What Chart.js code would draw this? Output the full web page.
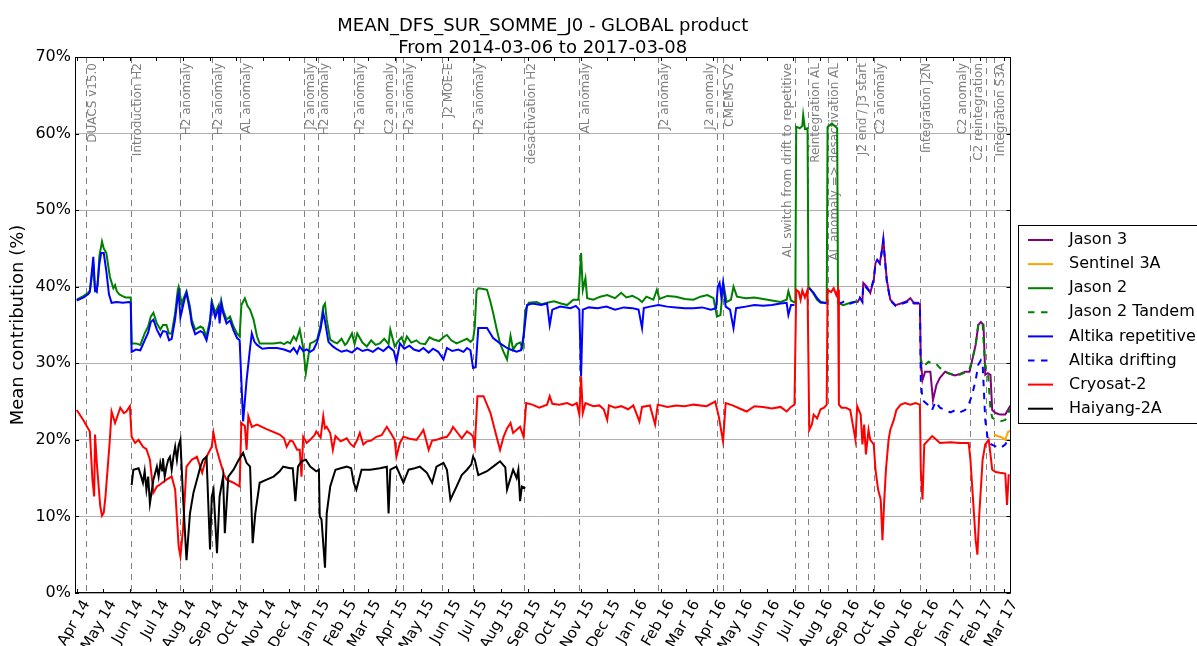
<!DOCTYPE html>
<html>
<head>
<meta charset="utf-8">
<script src="https://cdn.jsdelivr.net/npm/chart.js@4.4.1/dist/chart.umd.min.js"></script>
<style>
  html, body { margin: 0; padding: 0; background: #fff; }
  #wrap { width: 1197px; height: 646px; }
</style>
</head>
<body>
<div id="wrap"><canvas id="dfs" width="1197" height="646"></canvas></div>
<script>
// x values are days counted from 2014-03-30 (day 0); axis ends on 2017-03-08
const startDate = Date.UTC(2014, 2, 30);
const lastDay = 1074;

const titleLines = ["MEAN_DFS_SUR_SOMME_J0 - GLOBAL product", "From 2014-03-06 to 2017-03-08"];
const yTitle = "Mean contribution (%)";

const monthLabels = ["Apr 14", "May 14", "Jun 14", "Jul 14", "Aug 14", "Sep 14", "Oct 14", "Nov 14", "Dec 14",
  "Jan 15", "Feb 15", "Mar 15", "Apr 15", "May 15", "Jun 15", "Jul 15", "Aug 15", "Sep 15", "Oct 15", "Nov 15", "Dec 15",
  "Jan 16", "Feb 16", "Mar 16", "Apr 16", "May 16", "Jun 16", "Jul 16", "Aug 16", "Sep 16", "Oct 16", "Nov 16", "Dec 16",
  "Jan 17", "Feb 17", "Mar 17"];
// first day of each month
const monthDays = monthLabels.map((m, i) => Math.round((Date.UTC(2014, 3 + i, 1) - startDate) / 86400000));

// events (vertical dashed lines)
const eventDays = [13, 64, 120, 157, 189, 263, 279, 320, 369, 376, 421, 457, 516, 579, 669, 737, 744,
  827, 842, 864, 897, 917, 970, 1027, 1046, 1055];
const eventLabels = ["DUACS v15.0", "Introduction H2", "H2 anomaly", "H2 anomaly", "AL anomaly", "J2 anomaly",
  "H2 anomaly", "H2 anomaly", "C2 anomaly", "H2 anomaly", "J2 MOE-E", "H2 anomaly", "desactivation H2",
  "AL anomaly", "J2 anomaly", "J2 anomaly", "CMEMS V2", "AL switch from drift to repetitive", "Reintegration AL",
  "AL anomaly => desactivation AL", "J2 end / J3 start", "C2 anomaly", "Integration J2N", "C2 anomaly",
  "C2 reintegration", "Integration S3A"];
const eventLabelLeft = [8, 15, 17, 23, 24]; // indexes whose label sits left of the line

const seriesNames = ["Jason 3", "Sentinel 3A", "Jason 2", "Jason 2 Tandem", "Altika repetitive",
  "Altika drifting", "Cryosat-2", "Haiyang-2A"];

// [day, mean contribution %]
const jason3 = [[898,37.9],[901,38.5],[904,38.2],[905,40.5],[909,40.0],[913,39.2],[917,40.9],[919,43.1],[921,43.5],
  [924,43.1],[926,44.5],[928,46.3],[929,44.8],[932,40.9],[936,38.3],[942,37.6],[948,37.8],[955,38.1],[959,38.5],
  [963,37.9],[968,37.9],[970,37.7],[971,30.4],[973,27.8],[976,28.9],[982,28.9],[985,25.2],[989,27.2],[993,28.1],
  [999,28.9],[1005,28.6],[1010,28.4],[1016,28.6],[1022,28.9],[1027,28.9],[1030,30.4],[1034,32.4],[1037,35.0],
  [1040,35.4],[1043,35.0],[1045,28.5],[1048,28.7],[1051,28.5],[1053,23.9],[1057,23.5],[1062,23.3],[1068,23.3],
  [1071,23.9],[1074,24.5]];

const sentinel3a = [[1055,20.7],[1059,20.5],[1062,20.4],[1066,20.2],[1068,20.0],[1071,21.0],[1074,21.2]];

const jason2 = [[2,38.3],[10,38.8],[15,39.2],[17,39.5],[19,41.0],[21,43.0],[23,39.6],[26,40.2],[28,44.0],[31,45.9],
  [33,45.0],[36,44.4],[40,41.3],[44,39.8],[46,40.2],[48,39.4],[51,39.0],[54,38.8],[58,38.6],[62,38.6],[64,38.6],
  [65,32.6],[70,32.6],[75,32.4],[80,33.9],[84,34.8],[87,36.1],[90,36.6],[94,35.2],[98,34.4],[101,35.0],[105,35.0],
  [108,33.9],[111,33.9],[115,36.6],[118,39.6],[119,40.0],[123,37.4],[124,38.3],[128,39.4],[132,37.4],[134,35.7],
  [138,34.4],[144,34.8],[147,34.6],[151,33.5],[155,35.7],[157,38.1],[161,36.6],[165,37.6],[166,35.7],[168,38.1],
  [170,37.0],[174,35.7],[178,36.1],[182,34.8],[186,33.9],[189,33.5],[191,37.6],[195,38.5],[198,37.5],[201,37.0],
  [205,35.7],[209,33.5],[212,32.6],[220,32.6],[228,32.6],[236,32.7],[240,32.5],[244,32.8],[247,32.6],[251,33.5],
  [254,33.0],[258,34.4],[262,32.0],[265,28.7],[268,31.0],[270,32.6],[274,32.8],[278,33.1],[282,35.0],[285,37.4],
  [287,37.8],[289,35.7],[293,33.1],[297,32.8],[301,32.6],[306,33.2],[310,32.4],[312,32.6],[318,33.9],[321,32.5],
  [324,33.9],[330,32.7],[335,32.2],[340,33.0],[345,32.4],[350,32.6],[355,33.2],[360,32.5],[362,34.4],[367,32.2],
  [371,32.9],[375,33.4],[378,32.5],[381,33.5],[386,32.7],[392,33.0],[396,32.6],[402,32.5],[407,33.4],[412,33.1],
  [418,32.9],[424,33.5],[427,33.7],[432,33.0],[438,32.6],[444,32.9],[450,33.2],[454,32.8],[457,33.1],[459,34.8],
  [461,39.5],[463,39.8],[469,39.7],[473,39.6],[477,38.0],[480,36.6],[484,34.5],[488,32.6],[492,31.5],[496,30.5],
  [500,33.6],[503,31.8],[507,32.5],[511,32.7],[514,32.0],[517,37.0],[521,37.9],[530,38.0],[536,37.7],[542,37.9],
  [550,38.1],[558,37.8],[565,37.6],[572,38.3],[578,38.3],[581,44.4],[583,39.6],[586,41.1],[588,38.5],[595,38.3],
  [603,38.7],[611,38.9],[620,38.5],[627,39.2],[633,38.6],[640,38.8],[647,38.4],[651,38.0],[656,38.7],[664,38.3],
  [668,39.6],[671,38.4],[680,38.8],[690,38.7],[700,38.4],[710,38.3],[718,38.7],[726,38.9],[733,38.5],[737,36.1],
  [741,36.3],[743,38.8],[745,40.0],[748,38.0],[753,38.3],[756,40.0],[760,38.7],[770,38.5],[780,38.6],[790,38.4],
  [800,38.2],[810,38.0],[817,38.3],[819,39.4],[822,38.2],[827,37.9],[828,60.9],[832,60.7],[835,61.0],[836,62.4],
  [838,60.6],[841,60.7],[842,40.0],[846,39.4],[852,38.3],[856,37.9],[863,37.9],[864,60.9],[869,61.3],[875,60.7],
  [876,37.9],[882,37.6],[890,37.9],[898,38.1]];

const jason2Tandem = [[971,30.7],[973,29.5],[976,29.8],[980,30.2],[984,30.0],[988,30.0],[993,29.4],[1000,28.8],
  [1005,28.6],[1010,28.7],[1016,28.5],[1022,28.8],[1026,28.9],[1030,30.4],[1034,32.4],[1037,35.0],[1040,35.4],
  [1042,35.2],[1043,33.0],[1045,29.5],[1048,28.9],[1051,24.0],[1053,22.9],[1057,22.6],[1062,22.4],[1068,22.6],
  [1071,23.5],[1074,24.0]];

const altikaRep = [[2,38.2],[10,38.6],[15,39.0],[17,39.3],[21,43.9],[23,39.5],[25,39.3],[28,43.0],[30,44.4],[33,44.4],
  [36,42.0],[39,39.0],[42,37.9],[48,38.0],[55,37.9],[62,38.0],[64,37.9],[65,31.5],[70,31.8],[75,31.7],[80,33.0],
  [84,34.0],[87,35.4],[90,35.7],[94,34.4],[98,33.5],[101,34.2],[105,34.1],[108,33.0],[111,33.2],[115,35.8],
  [118,38.8],[119,39.2],[121,36.0],[123,37.0],[126,38.5],[128,39.2],[132,36.8],[134,35.2],[138,33.8],[144,34.2],
  [147,34.0],[151,33.0],[155,35.2],[157,37.8],[161,36.0],[165,37.2],[166,35.2],[168,37.8],[170,36.6],[174,35.2],
  [178,35.6],[182,34.3],[186,33.3],[189,33.0],[193,22.4],[197,27.8],[201,32.0],[203,33.9],[206,32.8],[209,32.4],
  [215,31.9],[222,32.0],[232,32.0],[240,31.8],[247,31.5],[251,32.0],[255,31.3],[258,32.2],[262,31.6],[266,31.8],
  [270,31.5],[274,31.8],[278,32.8],[282,34.5],[285,36.6],[287,35.5],[291,32.8],[296,32.2],[301,31.8],[306,31.5],
  [312,31.7],[318,31.4],[324,32.0],[330,31.6],[336,31.8],[342,31.5],[348,32.0],[354,31.6],[360,32.2],[366,31.6],
  [369,30.2],[373,32.6],[378,31.9],[384,32.3],[389,31.8],[395,31.6],[400,32.0],[406,31.4],[411,31.9],[417,31.5],
  [423,30.5],[427,32.0],[433,31.6],[440,31.8],[446,31.5],[450,32.0],[454,31.7],[457,29.4],[460,29.5],[463,34.6],
  [473,34.6],[480,33.3],[488,32.6],[496,32.0],[500,31.8],[507,31.5],[512,31.7],[515,33.5],[519,37.6],[525,37.8],
  [535,37.6],[542,37.8],[545,35.0],[548,37.0],[557,37.4],[569,37.2],[575,37.5],[579,37.0],[581,28.3],[583,37.0],
  [590,37.3],[600,37.2],[610,37.4],[620,37.0],[630,37.3],[640,37.2],[647,37.0],[651,34.6],[653,37.2],[660,37.4],
  [670,37.6],[680,37.4],[690,37.3],[700,37.2],[710,37.2],[720,37.3],[730,37.0],[736,37.2],[738,40.0],[740,40.5],
  [742,38.7],[744,40.5],[747,37.4],[752,37.0],[756,34.6],[759,37.2],[770,37.4],[780,37.6],[790,37.5],[800,37.6],
  [810,37.8],[817,37.9],[819,36.3],[822,37.6],[826,37.6],[835,null],[843,39.8],[848,39.2],[852,38.5],[856,38.0],
  [860,37.9],[863,37.8]];

const altikaDrift = [[876,37.8],[880,37.9],[885,38.2],[890,37.8],[895,38.0],[898,38.0],[901,38.6],[904,38.0],
  [905,40.3],[909,39.8],[913,39.3],[917,41.0],[919,43.0],[921,43.5],[924,43.0],[926,44.4],[928,46.0],[929,44.6],
  [932,40.7],[936,38.2],[942,37.5],[948,37.7],[955,38.0],[959,38.3],[963,37.8],[968,37.8],[970,37.5],[971,27.8],
  [973,25.2],[979,24.6],[984,23.9],[988,25.0],[993,24.2],[999,23.9],[1005,23.6],[1011,23.9],[1016,23.6],
  [1022,23.9],[1026,24.6],[1030,25.9],[1034,27.8],[1037,29.8],[1040,30.4],[1042,30.0],[1045,22.6],[1048,20.0],
  [1052,19.4],[1058,19.1],[1062,18.9],[1068,19.4],[1071,20.0],[1074,19.8]];

const cryosat2 = [[2,23.9],[10,22.5],[17,21.1],[20,14.8],[22,12.6],[23,20.7],[25,17.0],[29,11.3],[31,10.1],[33,10.5],
  [35,12.6],[40,20.0],[42,23.7],[46,22.2],[52,24.2],[56,23.5],[59,23.7],[63,24.4],[65,20.4],[69,19.6],[73,20.0],
  [78,19.1],[82,18.8],[86,17.4],[90,13.1],[94,13.9],[98,14.2],[105,14.8],[111,15.2],[115,13.5],[119,6.1],[121,4.8],
  [124,8.3],[128,16.5],[134,17.4],[140,17.8],[146,15.7],[151,17.8],[157,19.1],[159,20.9],[162,19.0],[167,17.0],
  [171,15.5],[174,14.8],[182,14.4],[189,13.9],[191,22.2],[195,21.8],[197,18.7],[199,23.1],[203,21.7],[209,22.0],
  [220,21.4],[235,20.7],[240,20.2],[243,19.1],[247,19.9],[250,19.8],[255,18.7],[258,18.7],[260,15.2],[262,20.4],
  [266,19.6],[270,20.0],[275,20.6],[277,21.1],[282,20.3],[285,23.1],[287,21.5],[289,21.7],[293,20.9],[296,18.7],
  [299,20.5],[305,19.8],[312,20.2],[316,19.5],[320,19.1],[324,20.0],[327,20.9],[331,19.4],[335,19.8],[340,19.9],
  [346,20.4],[352,20.6],[358,21.7],[363,20.8],[367,20.0],[369,17.8],[373,19.6],[377,20.4],[386,20.1],[392,20.0],
  [396,20.6],[400,21.3],[404,19.6],[406,18.7],[410,19.9],[415,20.0],[420,20.2],[427,20.4],[431,21.0],[434,21.7],
  [440,20.8],[444,20.2],[450,21.1],[455,20.7],[457,20.4],[459,19.2],[462,25.7],[469,25.7],[477,23.5],[484,20.4],
  [488,18.7],[492,20.4],[496,21.5],[500,22.2],[503,20.9],[511,21.7],[515,20.4],[518,24.8],[525,24.6],[533,24.2],
  [542,24.6],[545,25.7],[548,24.7],[556,24.6],[565,24.8],[571,24.5],[576,24.8],[579,23.3],[581,28.3],[583,23.5],
  [586,24.8],[595,24.4],[602,24.5],[607,24.0],[611,22.6],[613,24.5],[620,24.2],[627,24.4],[635,24.0],[641,24.5],
  [648,22.4],[651,24.3],[660,24.5],[666,22.0],[669,24.6],[680,24.3],[690,24.5],[700,24.4],[710,24.6],[725,24.4],
  [735,25.0],[739,23.1],[744,19.8],[747,24.8],[755,24.5],[765,24.0],[771,23.7],[780,24.4],[790,24.3],[800,24.1],
  [810,24.3],[817,23.7],[822,24.3],[826,24.6],[828,39.6],[831,39.3],[833,38.3],[835,39.5],[838,38.6],[841,39.6],
  [843,21.3],[846,22.0],[848,23.3],[852,22.8],[856,24.0],[860,24.2],[863,24.6],[864,39.6],[868,39.3],[871,39.8],
  [874,38.9],[876,39.6],[877,24.6],[880,24.2],[885,24.2],[890,23.9],[892,22.6],[896,20.0],[898,24.4],[902,23.3],
  [904,19.4],[906,22.0],[908,18.1],[911,21.3],[913,20.0],[917,19.4],[919,16.1],[922,13.5],[925,12.2],[927,6.9],
  [929,12.0],[931,16.1],[934,20.0],[936,21.3],[940,22.6],[943,23.9],[948,24.6],[953,24.8],[959,24.6],[965,24.8],
  [970,24.6],[971,16.1],[973,12.2],[975,19.4],[980,20.0],[984,20.5],[989,20.0],[993,19.6],[1005,19.7],[1016,19.6],
  [1026,19.6],[1028,17.4],[1031,12.2],[1034,6.9],[1036,5.0],[1038,10.0],[1042,17.4],[1045,19.4],[1049,20.0],
  [1051,18.1],[1053,16.1],[1057,15.8],[1062,15.7],[1068,15.6],[1070,11.5],[1072,15.5]];

const haiyang2a = [[65,14.1],[67,16.1],[73,16.3],[76,15.2],[78,14.4],[80,15.9],[82,13.5],[84,15.2],[86,11.7],[90,14.8],
  [94,16.5],[96,15.2],[98,17.0],[100,16.0],[101,17.6],[103,15.2],[105,16.5],[107,17.4],[109,17.8],[111,16.1],
  [113,17.8],[115,19.1],[117,17.4],[119,19.3],[121,20.0],[124,12.6],[128,4.3],[132,10.4],[136,13.1],[140,14.8],
  [144,16.5],[147,17.4],[151,17.8],[155,5.7],[157,12.6],[159,13.5],[163,5.2],[166,12.6],[170,15.2],[172,7.8],
  [176,15.2],[182,16.1],[188,17.4],[193,18.3],[197,17.0],[201,16.5],[204,6.5],[207,10.4],[212,14.4],[220,14.8],
  [228,15.2],[235,15.9],[239,16.5],[247,16.3],[250,16.3],[253,12.0],[256,16.5],[260,17.2],[265,17.4],[270,16.5],
  [277,15.9],[280,16.1],[281,10.0],[283,9.6],[287,3.3],[289,10.4],[293,13.9],[299,16.1],[305,16.3],[312,16.5],
  [317,16.3],[320,14.4],[323,13.5],[329,16.1],[339,16.1],[350,16.3],[358,16.5],[360,10.4],[362,16.1],[369,16.5],
  [377,14.4],[383,16.1],[390,16.3],[396,16.5],[404,15.7],[410,14.4],[415,16.5],[423,17.0],[427,16.1],[431,12.2],
  [438,13.9],[444,15.4],[450,16.1],[455,16.8],[457,17.8],[459,17.4],[463,15.4],[473,15.9],[480,16.5],[488,17.2],
  [494,16.4],[496,13.5],[500,15.0],[503,16.1],[507,15.0],[509,16.1],[511,12.0],[513,13.9],[517,13.7]];

const pts = arr => arr.map(p => ({ x: p[0], y: p[1] }));

const datasets = [
  { label: seriesNames[0], data: pts(jason3), borderColor: '#800080', order: 8 },
  { label: seriesNames[1], data: pts(sentinel3a), borderColor: '#ffa500', order: 7 },
  { label: seriesNames[2], data: pts(jason2), borderColor: '#008000', order: 6 },
  { label: seriesNames[3], data: pts(jason2Tandem), borderColor: '#008000', borderDash: [6.5, 6.5], order: 5 },
  { label: seriesNames[4], data: pts(altikaRep), borderColor: '#0000ff', order: 4 },
  { label: seriesNames[5], data: pts(altikaDrift), borderColor: '#0000ff', borderDash: [6.5, 6.5], order: 3 },
  { label: seriesNames[6], data: pts(cryosat2), borderColor: '#ff0000', order: 2 },
  { label: seriesNames[7], data: pts(haiyang2a), borderColor: '#000000', order: 1 },
];

const FONT = '"DejaVu Sans", sans-serif';

const decor = {
  id: 'decor',
  beforeDatasetsDraw(chart) {
    const { ctx, chartArea: a, scales: { x } } = chart;
    ctx.save();
    ctx.strokeStyle = '#808080';
    ctx.lineWidth = 1;
    ctx.setLineDash([6, 5]);
    eventDays.forEach(d => {
      const px = Math.round(x.getPixelForValue(d)) + 0.5;
      ctx.beginPath();
      ctx.moveTo(px, a.top);
      ctx.lineTo(px, a.bottom);
      ctx.stroke();
    });
    ctx.setLineDash([]);
    ctx.fillStyle = '#808080';
    ctx.font = '12px ' + FONT;
    ctx.textAlign = 'right';
    ctx.textBaseline = 'middle';
    eventLabels.forEach((t, i) => {
      const side = eventLabelLeft.includes(i) ? -7 : 7;
      ctx.save();
      ctx.translate(x.getPixelForValue(eventDays[i]) + side, a.top + 6);
      ctx.rotate(-Math.PI / 2);
      ctx.fillText(t, 0, 0);
      ctx.restore();
    });
    ctx.restore();
  },
  afterDraw(chart) {
    const { ctx, chartArea: a, scales: { x, y } } = chart;
    ctx.save();
    // frame + inward ticks
    ctx.strokeStyle = '#000';
    ctx.lineWidth = 1;
    ctx.strokeRect(Math.round(a.left) + 0.5, Math.round(a.top) + 0.5,
      Math.round(a.right - a.left) - 1, Math.round(a.bottom - a.top) - 1);
    ctx.beginPath();
    monthDays.forEach(d => {
      const px = Math.round(x.getPixelForValue(d)) + 0.5;
      ctx.moveTo(px, a.bottom); ctx.lineTo(px, a.bottom - 4);
      ctx.moveTo(px, a.top); ctx.lineTo(px, a.top + 4);
    });
    y.ticks.forEach(t => {
      const py = Math.round(y.getPixelForValue(t.value)) + 0.5;
      ctx.moveTo(a.left, py); ctx.lineTo(a.left + 4, py);
      ctx.moveTo(a.right, py); ctx.lineTo(a.right - 4, py);
    });
    ctx.stroke();

    // titles
    ctx.fillStyle = '#000';
    ctx.font = '18px ' + FONT;
    ctx.textAlign = 'center';
    ctx.textBaseline = 'alphabetic';
    const cx = (a.left + a.right) / 2;
    ctx.fillText(titleLines[0], cx, 31);
    ctx.fillText(titleLines[1], cx, 53);
    ctx.save();
    ctx.translate(18, (a.top + a.bottom) / 2);
    ctx.rotate(-Math.PI / 2);
    ctx.textBaseline = 'middle';
    ctx.fillText(yTitle, 0, 0);
    ctx.restore();

    // legend (clipped by the canvas edge like the original)
    ctx.fillStyle = '#fff';
    ctx.fillRect(1018.5, 225.5, 200, 198);
    ctx.strokeStyle = '#000';
    ctx.strokeRect(1018.5, 225.5, 200, 198);
    ctx.font = '16px ' + FONT;
    ctx.textAlign = 'left';
    ctx.textBaseline = 'middle';
    chart.data.datasets.forEach((ds, i) => {
      const ry = 240 + i * 24.1;
      ctx.strokeStyle = ds.borderColor;
      ctx.lineWidth = 2;
      ctx.setLineDash(ds.borderDash || []);
      ctx.beginPath();
      ctx.moveTo(1028, ry);
      ctx.lineTo(1053, ry);
      ctx.stroke();
      ctx.setLineDash([]);
      ctx.fillStyle = '#000';
      ctx.fillText(ds.label, 1069, ry);
    });
    ctx.restore();
  }
};

new Chart(document.getElementById('dfs'), {
  type: 'line',
  data: { datasets: datasets },
  options: {
    responsive: false,
    animation: false,
    devicePixelRatio: 1,
    layout: { padding: { top: 57, right: 186.5, left: 0, bottom: 0 } },
    plugins: { legend: { display: false }, tooltip: { enabled: false } },
    elements: {
      point: { radius: 0 },
      line: { borderWidth: 2, tension: 0, fill: false }
    },
    scales: {
      x: {
        type: 'linear',
        min: 0,
        max: lastDay,
        afterBuildTicks: s => { s.ticks = monthDays.map(v => ({ value: v })); },
        afterFit: s => { s.height = 53; },
        grid: { display: false, drawTicks: false },
        border: { display: false },
        ticks: {
          autoSkip: false,
          minRotation: 60,
          maxRotation: 60,
          labelOffset: 10,
          padding: 4,
          color: '#000',
          font: { family: FONT, size: 15 },
          callback: (v, i) => monthLabels[i]
        }
      },
      y: {
        min: 0,
        max: 70,
        afterFit: s => { s.width = 75; },
        grid: { color: '#b0b0b0', drawTicks: false },
        border: { display: false },
        ticks: {
          stepSize: 10,
          padding: 4,
          color: '#000',
          font: { family: FONT, size: 16 },
          callback: v => v + '%'
        }
      }
    }
  },
  plugins: [decor]
});
</script>
</body>
</html>
